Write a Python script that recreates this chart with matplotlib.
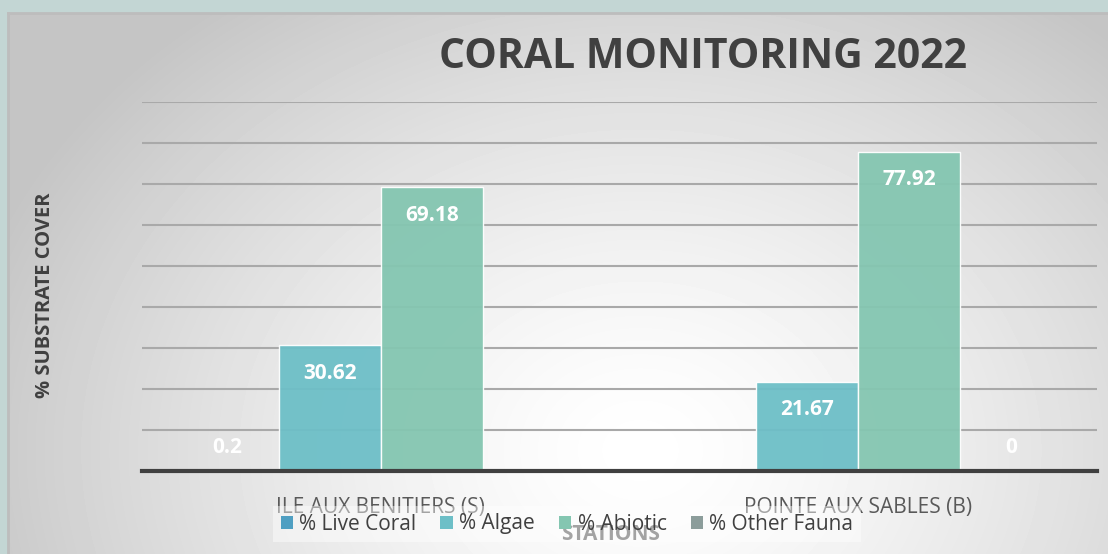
import numpy as np
import matplotlib
matplotlib.use("Agg")
import matplotlib.pyplot as plt
from matplotlib.patches import Patch

plt.rcParams["font.family"] = ["Open Sans", "DejaVu Sans"]

stations = ["ILE AUX BENITIERS (S)", "POINTE AUX SABLES (B)"]
series_names = ["% Live Coral", "% Algae", "% Abiotic", "% Other Fauna"]
live_coral = [0.2, np.nan]
algae = [30.62, 21.67]
abiotic = [69.18, 77.92]
other_fauna = [np.nan, 0]
colors = ["#4f9fc2", "#6dbfc7", "#84c6b1", "#8c9d9b"]

W, H = 1108, 554
fig = plt.figure(figsize=(W / 100, H / 100), dpi=100)
fig.patch.set_facecolor("#c3d6d4")

# panel with soft radial gradient
px0, py0 = 8, 13
bg = fig.add_axes([px0 / W, 0, (W - px0) / W, (H - py0) / H])
yy, xx = np.mgrid[py0:H, px0:W]
d = np.sqrt((xx - 640) ** 2 + ((yy - 450) * 1.25) ** 2)
t = np.clip(d / 700, 0, 1) ** 1.4
grad = 1.0 - t * (1.0 - 0.77)
bg.imshow(grad, cmap="gray", vmin=0, vmax=1, aspect="auto", extent=[0, 1, 0, 1])
bg.set_axis_off()
bg.plot([0, 1], [1, 1], color="#bdbdbd", lw=2, transform=bg.transAxes, clip_on=False)
bg.plot([0, 0], [0, 1], color="#bdbdbd", lw=2, transform=bg.transAxes, clip_on=False)

ax = fig.add_axes([142 / W, (H - 471) / H, 955 / W, (471 - 102) / H])
ax.set_facecolor("none")
ax.set_ylim(0, 90)
ax.set_xlim(-0.5, 1.5)
ax.set_yticks(np.arange(10, 91, 10))
ax.yaxis.grid(True, color="#a9a9a9", lw=1.5)
ax.set_axisbelow(True)
ax.tick_params(left=False, labelleft=False, bottom=False)
for s in ["left", "right", "top"]:
    ax.spines[s].set_visible(False)
ax.spines["bottom"].set_color("#404040")
ax.spines["bottom"].set_linewidth(3)

x = np.arange(len(stations))
width = 0.214
all_series = [live_coral, algae, abiotic, other_fauna]
for i, (vals, col) in enumerate(zip(all_series, colors)):
    pos = x + (i - 1.5) * width
    ax.bar(pos, vals, width, color=col, alpha=0.95, edgecolor="white", linewidth=1, zorder=2)
    for xp, v in zip(pos, vals):
        if np.isnan(v):
            continue
        if v > 12:
            ax.annotate(f"{v:g}", (xp, v), xytext=(0, -20), textcoords="offset points",
                        ha="center", va="center", color="white", fontsize=15, fontweight="bold")
        else:
            ax.annotate(f"{v:g}", (xp, 0), xytext=(0, 17), textcoords="offset points",
                        ha="center", va="center", color="white", fontsize=15, fontweight="bold")

ax.set_xticks(x)
ax.set_xticklabels(stations, fontsize=15, color="#595959")
ax.tick_params(axis="x", pad=15)

fig.text(703 / W, 1 - 58 / H, "CORAL MONITORING 2022", ha="center", va="center",
         fontsize=29.5, fontweight="bold", color="#404040")
fig.text(45 / W, 1 - 295 / H, "% SUBSTRATE COVER", rotation=90, ha="center", va="center",
         fontsize=14.5, fontweight="bold", color="#404040")
fig.text(611 / W, 1 - 535 / H, "STATIONS", ha="center", va="center",
         fontsize=15, fontweight="bold", color="#595959")

handles = [Patch(facecolor=c, edgecolor="none") for c in colors]
leg = fig.legend(handles, series_names, loc="center", bbox_to_anchor=(567 / W, 1 - 524 / H),
                 ncol=4, frameon=True, fontsize=15, handlelength=0.6, handleheight=0.6,
                 handletextpad=0.3, columnspacing=1.15, borderpad=0.35, fancybox=False)
leg.get_frame().set_facecolor("white")
leg.get_frame().set_alpha(0.45)
leg.get_frame().set_edgecolor("none")
for txt in leg.get_texts():
    txt.set_color("#404040")

fig.savefig("out.png", dpi=100, facecolor=fig.get_facecolor())
